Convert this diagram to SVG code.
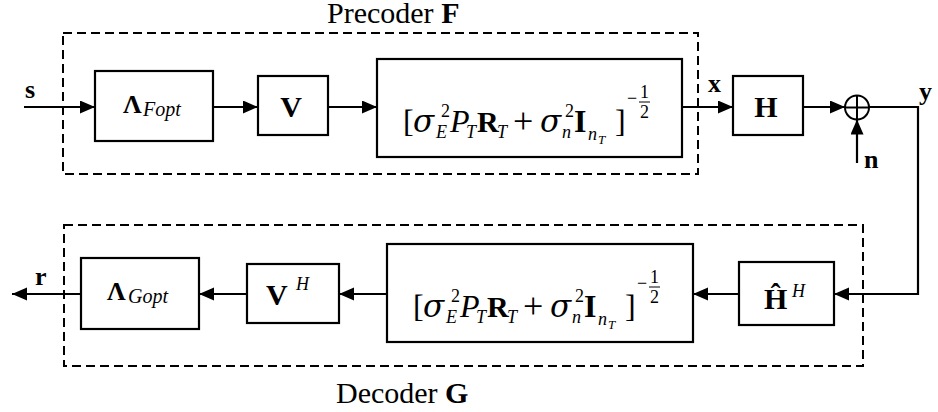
<svg xmlns="http://www.w3.org/2000/svg" width="938" height="412" viewBox="0 0 938 412">
<defs>
<marker id="arr" markerUnits="userSpaceOnUse" markerWidth="16" markerHeight="14" refX="15" refY="6.5" orient="auto">
<path d="M0,0 L15,6.5 L0,13 z" fill="#000"/>
</marker>
<style>
.box{fill:#fff;stroke:#000;stroke-width:2.2}
.dash{fill:none;stroke:#000;stroke-width:2;stroke-dasharray:9 5}
.ln{fill:none;stroke:#000;stroke-width:2.2}
.t{font-family:"Liberation Serif","Times New Roman",serif;fill:#000}
.b{font-weight:bold}
.i{font-style:italic}
.sm{font-size:18px}
.xs{font-size:13px}
.sg{font-family:"DejaVu Serif","Liberation Serif",serif;font-style:italic;font-size:31px}
.pl{font-size:36px}
.fr{stroke:#000;stroke-width:1}
</style>
</defs>
<rect width="938" height="412" fill="#fff"/>

<g id="precoder">
<rect class="dash" x="63" y="33" width="635" height="141"/>
<text class="t" x="327" y="23" font-size="30">Precoder <tspan class="b">F</tspan></text>
</g>
<g id="decoder">
<rect class="dash" x="64" y="225" width="799" height="141"/>
<text class="t" x="336" y="403" font-size="30">Decoder <tspan class="b">G</tspan></text>
</g>

<g id="connectors">
<line class="ln" x1="24" y1="107" x2="95" y2="107" marker-end="url(#arr)"/>
<line class="ln" x1="213" y1="107" x2="258" y2="107" marker-end="url(#arr)"/>
<line class="ln" x1="328" y1="107" x2="377" y2="107" marker-end="url(#arr)"/>
<line class="ln" x1="682" y1="107" x2="733" y2="107" marker-end="url(#arr)"/>
<line class="ln" x1="803" y1="107" x2="845" y2="107" marker-end="url(#arr)"/>
<line class="ln" x1="857" y1="163" x2="857" y2="119.5" marker-end="url(#arr)"/>
<polyline class="ln" points="869,107 918,107 918,294 834,294" marker-end="url(#arr)"/>
<line class="ln" x1="739" y1="294" x2="693" y2="294" marker-end="url(#arr)"/>
<line class="ln" x1="387" y1="294" x2="339" y2="294" marker-end="url(#arr)"/>
<line class="ln" x1="247" y1="294" x2="199" y2="294" marker-end="url(#arr)"/>
<line class="ln" x1="81" y1="294" x2="12" y2="294" marker-end="url(#arr)"/>
</g>

<g id="labels">
<text class="t b" x="25" y="98" font-size="26">s</text>
<text class="t b" x="708" y="92" font-size="26">x</text>
<text class="t b" x="919" y="100" font-size="26">y</text>
<text class="t b" x="864" y="168" font-size="26">n</text>
<text class="t b" x="35" y="285" font-size="26">r</text>
</g>

<g id="lambdaF">
<rect class="box" x="95" y="71" width="118" height="70"/>
<text class="t" y="113"><tspan class="b" x="123" font-size="26">Λ</tspan><tspan class="i" x="143" y="116" font-size="20">Fopt</tspan></text>
</g>
<g id="V">
<rect class="box" x="258" y="76" width="70" height="59"/>
<text class="t b" x="291" y="117" font-size="30" text-anchor="middle">V</text>
</g>
<g id="normF">
<rect class="box" x="377" y="59" width="305" height="98"/>
<text class="t" font-size="32">
<tspan x="403" y="132">[</tspan><tspan class="sg" x="413" y="132">σ</tspan><tspan class="sm" x="441" y="117">2</tspan><tspan class="i sm" x="436" y="138">E</tspan><tspan class="i" x="450" y="132">P</tspan><tspan class="i sm" x="466" y="138">T</tspan><tspan class="b" x="477" y="132" font-size="30">R</tspan><tspan class="i sm" x="497" y="138">T</tspan><tspan class="pl" x="513" y="133">+</tspan><tspan class="sg" x="540" y="132">σ</tspan><tspan class="sm" x="565" y="117">2</tspan><tspan class="i sm" x="562" y="138">n</tspan><tspan class="b" x="574" y="132">I</tspan><tspan class="i sm" x="588" y="140">n</tspan><tspan class="i xs" x="598" y="144">T</tspan><tspan x="615" y="132">]</tspan><tspan class="sm" x="627" y="104">−</tspan><tspan class="sm" x="640" y="98">1</tspan><tspan class="sm" x="640" y="118">2</tspan>
</text>
<line class="fr" x1="639" y1="102" x2="650" y2="102"/>
</g>
<g id="H">
<rect class="box" x="733" y="76" width="70" height="59"/>
<text class="t b" x="766" y="117" font-size="30" text-anchor="middle">H</text>
</g>
<g id="sum">
<circle cx="857" cy="107.5" r="12" fill="#fff" stroke="#000" stroke-width="2"/>
<line x1="845" y1="107.5" x2="869" y2="107.5" stroke="#000" stroke-width="2"/>
<line x1="857" y1="95.5" x2="857" y2="119.5" stroke="#000" stroke-width="2"/>
</g>

<g id="HhatH">
<rect class="box" x="739" y="262" width="95" height="63"/>
<text class="t" y="309"><tspan class="b" x="764" font-size="30">Ĥ</tspan><tspan class="i sm" x="792" y="297">H</tspan></text>
</g>
<g id="normG">
<rect class="box" x="387" y="244" width="306" height="98"/>
<text class="t" font-size="32">
<tspan x="413" y="317">[</tspan><tspan class="sg" x="423" y="317">σ</tspan><tspan class="sm" x="451" y="302">2</tspan><tspan class="i sm" x="446" y="323">E</tspan><tspan class="i" x="460" y="317">P</tspan><tspan class="i sm" x="476" y="323">T</tspan><tspan class="b" x="487" y="317" font-size="30">R</tspan><tspan class="i sm" x="507" y="323">T</tspan><tspan class="pl" x="523" y="318">+</tspan><tspan class="sg" x="550" y="317">σ</tspan><tspan class="sm" x="575" y="302">2</tspan><tspan class="i sm" x="572" y="323">n</tspan><tspan class="b" x="584" y="317">I</tspan><tspan class="i sm" x="598" y="325">n</tspan><tspan class="i xs" x="608" y="329">T</tspan><tspan x="625" y="317">]</tspan><tspan class="sm" x="637" y="289">−</tspan><tspan class="sm" x="650" y="283">1</tspan><tspan class="sm" x="650" y="303">2</tspan>
</text>
<line class="fr" x1="649" y1="287" x2="660" y2="287"/>
</g>
<g id="VH">
<rect class="box" x="247" y="264" width="92" height="59"/>
<text class="t" y="305"><tspan class="b" x="266" font-size="30">V</tspan><tspan class="i sm" x="296" y="290">H</tspan></text>
</g>
<g id="lambdaG">
<rect class="box" x="81" y="258" width="118" height="71"/>
<text class="t" y="300"><tspan class="b" x="107" font-size="26">Λ</tspan><tspan class="i" x="128" y="303" font-size="20">Gopt</tspan></text>
</g>
</svg>
